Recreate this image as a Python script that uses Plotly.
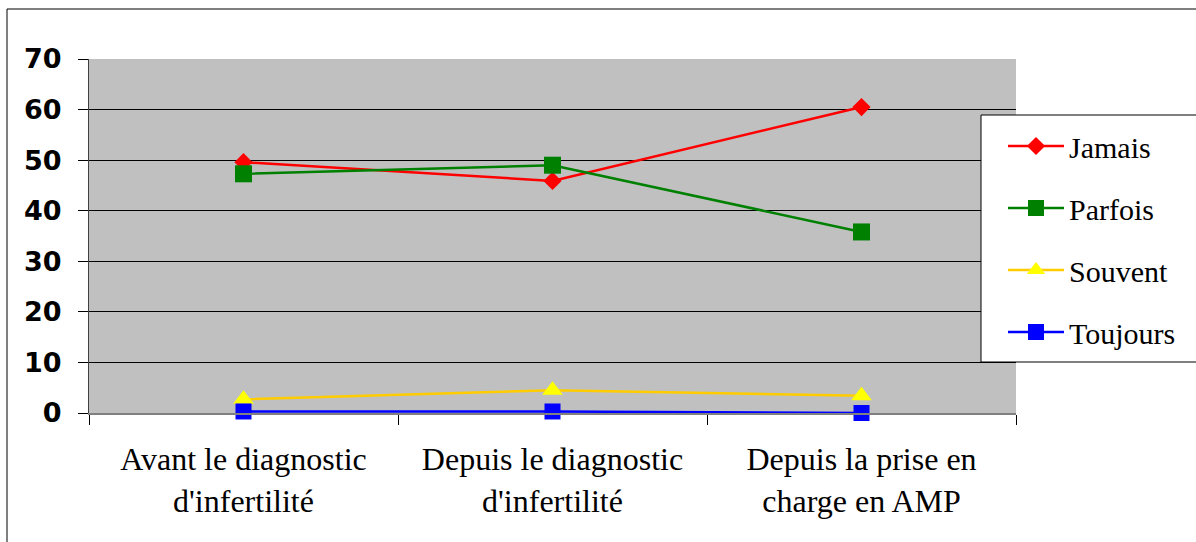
import plotly.graph_objects as go

categories = ["Avant le diagnostic<br>d'infertilité", "Depuis le diagnostic<br>d'infertilité", "Depuis la prise en<br>charge en AMP"]
jamais = [49.6, 45.9, 60.5]
parfois = [47.3, 49.0, 35.8]
souvent = [2.7, 4.5, 3.4]
toujours = [0.3, 0.3, 0.0]

series = [
    ("Jamais", jamais, "#FF0000", "#FF0000", "diamond", 14),
    ("Parfois", parfois, "#008000", "#008000", "square", 17),
    ("Souvent", souvent, "#FFCC00", "#FFFF00", "triangle-up", 18),
    ("Toujours", toujours, "#0000FF", "#0000FF", "square", 16),
]

W, H = 1196, 542
L, R, T, B = 89, 1016, 59, 413
pw, ph = R - L, B - T

def px(x):
    return (x - L) / pw

def py(y):
    return (B - y) / ph

fig = go.Figure()
for i, (name, vals, lc, mc, sym, sz) in enumerate(series):
    fig.add_trace(go.Scatter(
        x=categories, y=vals, name=name, mode="lines+markers",
        line=dict(color=lc, width=2.5),
        marker=dict(color=mc, symbol=sym, size=sz, line=dict(width=0)),
        cliponaxis=False, legendgroup=f"g{i}",
    ))

fig.update_layout(
    width=W, height=H,
    margin=dict(l=L, r=W - R, t=T, b=H - B, autoexpand=False),
    paper_bgcolor="white", plot_bgcolor="#C0C0C0",
    showlegend=True,
    legend=dict(
        x=px(1003), y=py(120), xanchor="left", yanchor="top",
        bgcolor="rgba(0,0,0,0)", borderwidth=0,
        font=dict(family="Liberation Serif", size=30, color="black"),
        itemwidth=56, tracegroupgap=20, traceorder="grouped",
    ),
    xaxis=dict(
        type="category", range=[-0.5, 2.5], tickson="boundaries",
        ticks="outside", ticklen=10, tickcolor="black", tickwidth=1,
        showline=True, linecolor="#808080", linewidth=2, showgrid=False,
        tickfont=dict(family="Liberation Serif", size=32, color="black"),
        ticklabelstandoff=17,
    ),
    yaxis=dict(
        range=[0, 70], dtick=10, ticks="outside", ticklen=10,
        tickcolor="black", tickwidth=1,
        showline=True, linecolor="#404040", linewidth=1,
        showgrid=True, gridcolor="black", gridwidth=1, zeroline=False,
        tickfont=dict(family="DejaVu Sans", size=27, color="black", weight="bold"),
        ticklabelstandoff=11,
    ),
    shapes=[
        dict(type="rect", xref="paper", yref="paper",
             x0=px(981), x1=px(1215), y0=py(362), y1=py(115),
             fillcolor="white", line=dict(color="black", width=1), layer="above"),
        dict(type="rect", xref="paper", yref="paper",
             x0=px(7), x1=px(1220), y0=py(570), y1=py(9),
             fillcolor="rgba(0,0,0,0)", line=dict(color="black", width=1), layer="above"),
    ],
)

fig.write_html("out.html", config={"displayModeBar": False},
               post_script="document.body.style.margin='0';document.body.style.overflow='hidden';")
